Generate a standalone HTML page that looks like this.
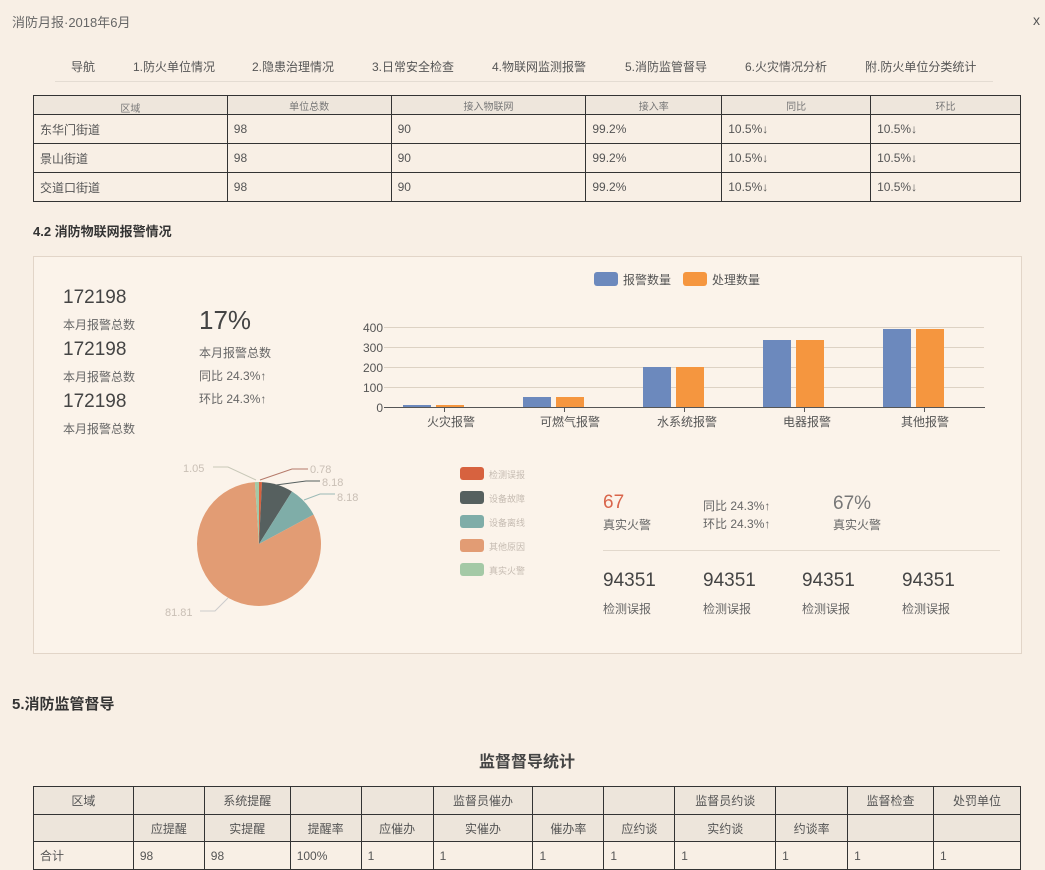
<!DOCTYPE html>
<html><head><meta charset="utf-8"><style>
*{margin:0;padding:0;box-sizing:border-box}
body{width:1045px;height:868px;overflow:hidden;background:#f8efe5;font-family:"Liberation Sans","Noto Sans CJK SC",sans-serif;color:#555;position:relative}
.a{position:absolute;white-space:nowrap}
table{border-collapse:collapse;position:absolute;font-size:12px;color:#555}
td{border:1px solid #333;padding:0 6px;vertical-align:middle}
.big{font-size:19px;color:#444}
.sm{font-size:12px;color:#666}
</style></head><body>
<div class="a" style="left:12px;top:12px;font-size:13px;color:#666">消防月报·2018年6月</div>
<div class="a" style="left:1033px;top:12px;font-size:14px;color:#555">x</div>
<div class="a" style="left:0;top:58px;width:1045px;font-size:12px;color:#555">
<span class="a" style="left:71px">导航</span><span class="a" style="left:133px">1.防火单位情况</span><span class="a" style="left:252px">2.隐患治理情况</span><span class="a" style="left:372px">3.日常安全检查</span><span class="a" style="left:492px">4.物联网监测报警</span><span class="a" style="left:625px">5.消防监管督导</span><span class="a" style="left:745px">6.火灾情况分析</span><span class="a" style="left:865px">附.防火单位分类统计</span></div>
<div class="a" style="left:55px;top:81px;width:938px;height:1px;background:#e4dcd2"></div>
<table style="left:33px;top:95px;width:988px">
<colgroup><col style="width:194px"><col style="width:164px"><col style="width:195px"><col style="width:136px"><col style="width:149px"><col style="width:150px"></colgroup>
<tr style="height:19px;background:#eee6dc;color:#777"><td style="text-align:center;font-size:10px;line-height:8px;vertical-align:bottom">区域</td><td style="text-align:center;font-size:10px">单位总数</td><td style="text-align:center;font-size:10px">接入物联网</td><td style="text-align:center;font-size:10px">接入率</td><td style="text-align:center;font-size:10px">同比</td><td style="text-align:center;font-size:10px">环比</td></tr>
<tr style="height:29px"><td>东华门街道</td><td>98</td><td>90</td><td>99.2%</td><td>10.5%↓</td><td>10.5%↓</td></tr>
<tr style="height:29px"><td>景山街道</td><td>98</td><td>90</td><td>99.2%</td><td>10.5%↓</td><td>10.5%↓</td></tr>
<tr style="height:29px"><td>交道口街道</td><td>98</td><td>90</td><td>99.2%</td><td>10.5%↓</td><td>10.5%↓</td></tr>
</table>
<div class="a" style="left:33px;top:221px;font-size:13px;font-weight:bold;color:#333">4.2 消防物联网报警情况</div>
<div class="a" style="left:33px;top:256px;width:989px;height:398px;border:1px solid #e2d5c8;background:#fbf3ea"></div>
<div class="a big" style="left:63px;top:287px">172198</div><div class="a sm" style="left:63px;top:316px">本月报警总数</div>
<div class="a big" style="left:63px;top:339px">172198</div><div class="a sm" style="left:63px;top:368px">本月报警总数</div>
<div class="a big" style="left:63px;top:391px">172198</div><div class="a sm" style="left:63px;top:420px">本月报警总数</div>
<div class="a" style="left:199px;top:305px;font-size:26px;color:#444">17%</div>
<div class="a sm" style="left:199px;top:344px">本月报警总数</div>
<div class="a sm" style="left:199px;top:367px">同比 24.3%↑</div>
<div class="a sm" style="left:199px;top:390px">环比 24.3%↑</div>
<svg class="a" style="left:0;top:0" width="1045" height="868">
<rect x="594" y="272" width="24" height="14" rx="3" fill="#6c89bd"/><text x="623" y="284" font-size="12" fill="#555">报警数量</text>
<rect x="683" y="272" width="24" height="14" rx="3" fill="#f5963f"/><text x="712" y="284" font-size="12" fill="#555">处理数量</text>
<g stroke="#ddd2c4" stroke-width="1"><line x1="384" y1="327.5" x2="984" y2="327.5"/><line x1="384" y1="347.5" x2="984" y2="347.5"/><line x1="384" y1="367.5" x2="984" y2="367.5"/><line x1="384" y1="387.5" x2="984" y2="387.5"/></g>
<g font-size="12" fill="#555" text-anchor="end"><text x="383" y="332">400</text><text x="383" y="352">300</text><text x="383" y="372">200</text><text x="383" y="392">100</text><text x="383" y="412">0</text></g>
<g fill="#6c89bd"><rect x="403" y="405" width="28" height="2"/><rect x="523" y="397" width="28" height="10"/><rect x="643" y="367" width="28" height="40"/><rect x="763" y="340" width="28" height="67"/><rect x="883" y="329" width="28" height="78"/></g>
<g fill="#f5963f"><rect x="436" y="405" width="28" height="2"/><rect x="556" y="397" width="28" height="10"/><rect x="676" y="367" width="28" height="40"/><rect x="796" y="340" width="28" height="67"/><rect x="916" y="329" width="28" height="78"/></g>
<line x1="384" y1="407.5" x2="985" y2="407.5" stroke="#555"/>
<g stroke="#555"><line x1="444.5" y1="407" x2="444.5" y2="412"/><line x1="564.5" y1="407" x2="564.5" y2="412"/><line x1="684.5" y1="407" x2="684.5" y2="412"/><line x1="804.5" y1="407" x2="804.5" y2="412"/><line x1="924.5" y1="407" x2="924.5" y2="412"/></g>
<g font-size="12" fill="#555" text-anchor="middle"><text x="451" y="426">火灾报警</text><text x="570" y="426">可燃气报警</text><text x="687" y="426">水系统报警</text><text x="807" y="426">电器报警</text><text x="925" y="426">其他报警</text></g>
<path d="M259,544 L259,482 A62,62 0 0 1 262,482.1 Z" fill="#d7623f"/>
<path d="M259,544 L262,482.1 A62,62 0 0 1 292,491.5 Z" fill="#56605f"/>
<path d="M259,544 L292,491.5 A62,62 0 0 1 313.6,514.6 Z" fill="#7fada8"/>
<path d="M259,544 L313.6,514.6 A62,62 0 1 1 254.9,482.1 Z" fill="#e29c74"/>
<path d="M259,544 L254.9,482.1 A62,62 0 0 1 259,482 Z" fill="#a4c9a6"/>
<g fill="none" stroke-width="1"><polyline points="260,480 292,469 308,469" stroke="#b57a6a"/><polyline points="276,485 306,481 320,481" stroke="#56605f"/><polyline points="304,500 320,494 335,494" stroke="#9bbab6"/><polyline points="256,480 228,467 213,467" stroke="#c8c8b8"/><polyline points="228,598 215,611 200,611" stroke="#ccc"/></g>
<g font-size="11" fill="#c9bfb5"><text x="310" y="473">0.78</text><text x="322" y="486">8.18</text><text x="337" y="501">8.18</text><text x="183" y="472">1.05</text><text x="165" y="616">81.81</text></g>
<g font-size="9" fill="#c5bbb1">
<rect x="460" y="467" width="24" height="13" rx="3" fill="#d7623f"/><text x="489" y="478">检测误报</text>
<rect x="460" y="491" width="24" height="13" rx="3" fill="#56605f"/><text x="489" y="502">设备故障</text>
<rect x="460" y="515" width="24" height="13" rx="3" fill="#7fada8"/><text x="489" y="526">设备离线</text>
<rect x="460" y="539" width="24" height="13" rx="3" fill="#e29c74"/><text x="489" y="550">其他原因</text>
<rect x="460" y="563" width="24" height="13" rx="3" fill="#a4c9a6"/><text x="489" y="574">真实火警</text></g>
<line x1="603" y1="550.5" x2="1000" y2="550.5" stroke="#e2d8cc"/>
</svg>
<div class="a" style="left:603px;top:492px;font-size:19px;color:#d9654b">67</div>
<div class="a sm" style="left:603px;top:516px">真实火警</div>
<div class="a sm" style="left:703px;top:497px">同比 24.3%↑</div>
<div class="a sm" style="left:703px;top:515px">环比 24.3%↑</div>
<div class="a" style="left:833px;top:493px;font-size:19px;color:#777">67%</div>
<div class="a sm" style="left:833px;top:516px">真实火警</div>
<div class="a big" style="left:603px;top:570px">94351</div><div class="a sm" style="left:603px;top:600px">检测误报</div>
<div class="a big" style="left:703px;top:570px">94351</div><div class="a sm" style="left:703px;top:600px">检测误报</div>
<div class="a big" style="left:802px;top:570px">94351</div><div class="a sm" style="left:802px;top:600px">检测误报</div>
<div class="a big" style="left:902px;top:570px">94351</div><div class="a sm" style="left:902px;top:600px">检测误报</div>
<div class="a" style="left:12px;top:693px;font-size:15px;font-weight:bold;color:#333">5.消防监管督导</div>
<div class="a" style="left:479px;top:748px;font-size:16px;font-weight:bold;color:#444">监督督导统计</div>
<table style="left:33px;top:786px;width:988px;text-align:center">
<colgroup><col style="width:100px"><col style="width:71px"><col style="width:86px"><col style="width:71px"><col style="width:72px"><col style="width:100px"><col style="width:71px"><col style="width:71px"><col style="width:101px"><col style="width:72px"><col style="width:86px"><col style="width:87px"></colgroup>
<tr style="height:28px;background:#ede5db"><td>区域</td><td></td><td>系统提醒</td><td></td><td></td><td>监督员催办</td><td></td><td></td><td>监督员约谈</td><td></td><td>监督检查</td><td>处罚单位</td></tr>
<tr style="height:27px;background:#ede5db"><td></td><td>应提醒</td><td>实提醒</td><td>提醒率</td><td>应催办</td><td>实催办</td><td>催办率</td><td>应约谈</td><td>实约谈</td><td>约谈率</td><td></td><td></td></tr>
<tr style="height:28px;text-align:left"><td>合计</td><td>98</td><td>98</td><td>100%</td><td>1</td><td>1</td><td>1</td><td>1</td><td>1</td><td>1</td><td>1</td><td>1</td></tr>
</table>
</body></html>
